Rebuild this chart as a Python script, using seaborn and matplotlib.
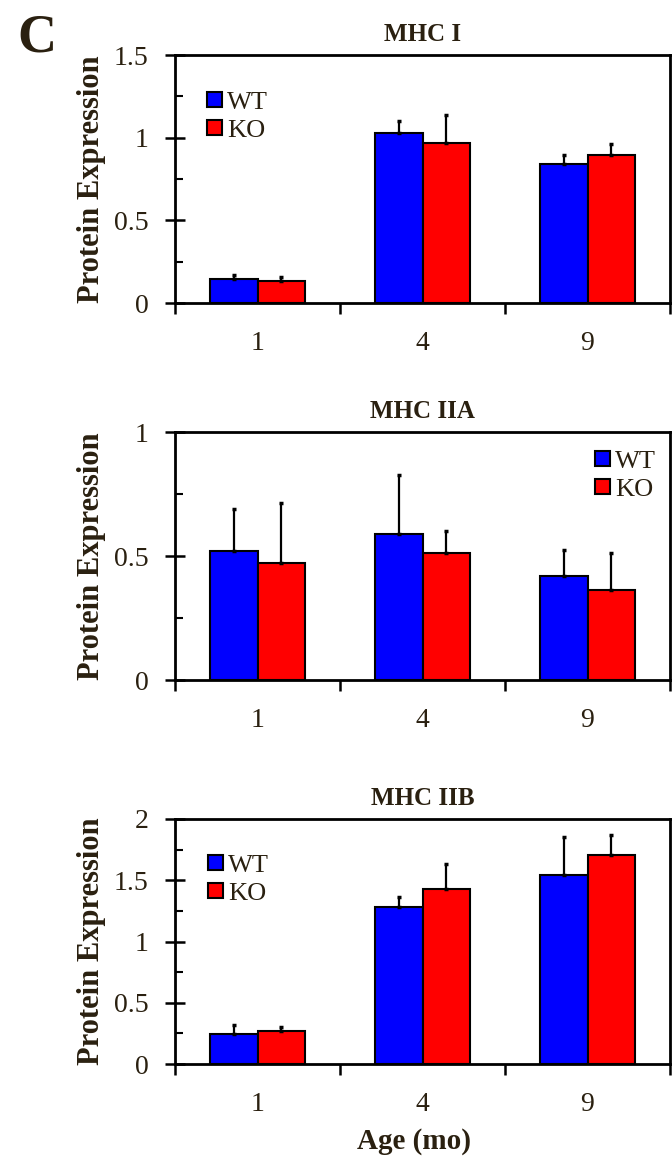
import numpy as np
import pandas as pd
import matplotlib
matplotlib.use("Agg")
import matplotlib.pyplot as plt
import seaborn as sns

ages = ["1", "4", "9"]
groups = ["WT", "KO"]

mhc1_wt = [0.145, 1.027, 0.843]
mhc1_ko = [0.133, 0.970, 0.897]
mhc1_wt_err = [0.025, 0.073, 0.052]
mhc1_ko_err = [0.024, 0.170, 0.065]

mhc2a_wt = [0.522, 0.589, 0.419]
mhc2a_ko = [0.472, 0.511, 0.361]
mhc2a_wt_err = [0.167, 0.237, 0.106]
mhc2a_ko_err = [0.241, 0.088, 0.150]

mhc2b_wt = [0.247, 1.282, 1.543]
mhc2b_ko = [0.269, 1.426, 1.706]
mhc2b_wt_err = [0.068, 0.084, 0.307]
mhc2b_ko_err = [0.037, 0.204, 0.164]

titles = ["MHC I", "MHC IIA", "MHC IIB"]
ymax = [1.5, 1.0, 2.0]
ymajor = [0.5, 0.5, 0.5]
yminor = [0.25, 0.25, 0.25]

sns.set_theme(style="white")
plt.rcParams["font.family"] = ["Liberation Serif", "DejaVu Serif"]
TXT = "#2a2010"

fig = plt.figure(figsize=(6.72, 11.56), dpi=100)
W, H = 672.0, 1156.0
boxes = [(175, 670, 55, 303), (175, 670, 432, 680), (175, 670, 819, 1064)]
legend_pos = [(207, 92), (595, 451), (208, 855)]

panels = [
    (mhc1_wt, mhc1_ko, mhc1_wt_err, mhc1_ko_err),
    (mhc2a_wt, mhc2a_ko, mhc2a_wt_err, mhc2a_ko_err),
    (mhc2b_wt, mhc2b_ko, mhc2b_wt_err, mhc2b_ko_err),
]

for i, (wt, ko, wte, koe) in enumerate(panels):
    l, r, t, b = boxes[i]
    ax = fig.add_axes([l / W, 1 - b / H, (r - l) / W, (b - t) / H])
    df = pd.DataFrame({
        "Age": ages * 2,
        "Group": ["WT"] * 3 + ["KO"] * 3,
        "Value": list(wt) + list(ko),
    })
    sns.barplot(data=df, x="Age", y="Value", hue="Group", order=ages,
                hue_order=groups, palette=["#0000ff", "#ff0000"],
                width=0.58, edgecolor="black", linewidth=1.5,
                errorbar=None, ax=ax, saturation=1)
    errs = [wte, koe]
    vals = [wt, ko]
    bar_conts = list(ax.containers)
    for k, cont in enumerate(bar_conts):
        xs = [p.get_x() + p.get_width() / 2 for p in cont]
        ax.errorbar(xs, vals[k], yerr=[np.zeros(3), errs[k]], fmt="none",
                    ecolor="black", elinewidth=1.6, capsize=1.5, capthick=2.5,
                    zorder=1)
    ax.set_xlim(-0.5, 2.5)
    ax.set_ylim(0, ymax[i])
    ax.set_yticks(np.arange(0, ymax[i] + 1e-9, ymajor[i]))
    ax.set_yticklabels([f"{v:g}" for v in np.arange(0, ymax[i] + 1e-9, ymajor[i])])
    ax.set_yticks(np.arange(0, ymax[i] + 1e-9, yminor[i]), minor=True)
    ax.set_xticks([0, 1, 2])
    ax.set_xticklabels(ages)
    ax.set_xticks([-0.5, 0.5, 1.5, 2.5], minor=True)
    ax.tick_params(axis="x", which="major", length=0, pad=20, labelsize=20, labelcolor=TXT)
    ax.tick_params(axis="x", which="minor", length=8, width=1.8, direction="out", bottom=True, color="black")
    ax.tick_params(axis="y", which="major", length=14, width=1.8, direction="inout", left=True, pad=12, labelsize=20, labelcolor=TXT, color="black")
    ax.tick_params(axis="y", which="minor", length=6, width=1.5, direction="in", left=True, color="black")
    for s in ax.spines.values():
        s.set_color("black")
        s.set_linewidth(2)
    ax.set_title(titles[i], fontsize=18, fontweight="bold", color=TXT, pad=10)
    ax.set_ylabel("Protein Expression", fontsize=22, fontweight="bold", color=TXT, labelpad=6)
    if i == 2:
        ax.set_xlabel("Age (mo)", fontsize=21, fontweight="bold", color=TXT, labelpad=8)
        ax.xaxis.label.set_x(0.482)
    else:
        ax.set_xlabel("")
    lx, ly = legend_pos[i]
    leg = ax.legend(loc="upper left", bbox_to_anchor=(lx / W, 1 - ly / H),
                    bbox_transform=fig.transFigure, frameon=False,
                    handlelength=0.57, handleheight=0.5, handletextpad=0.2,
                    labelspacing=0.22, borderpad=0, borderaxespad=0,
                    fontsize=19)
    for txt in leg.get_texts():
        txt.set_color(TXT)

fig.text(17 / W, 1 - 52 / H, "C", fontsize=39, fontweight="bold", color=TXT,
         ha="left", va="baseline")

fig.savefig("out.png", dpi=100)
